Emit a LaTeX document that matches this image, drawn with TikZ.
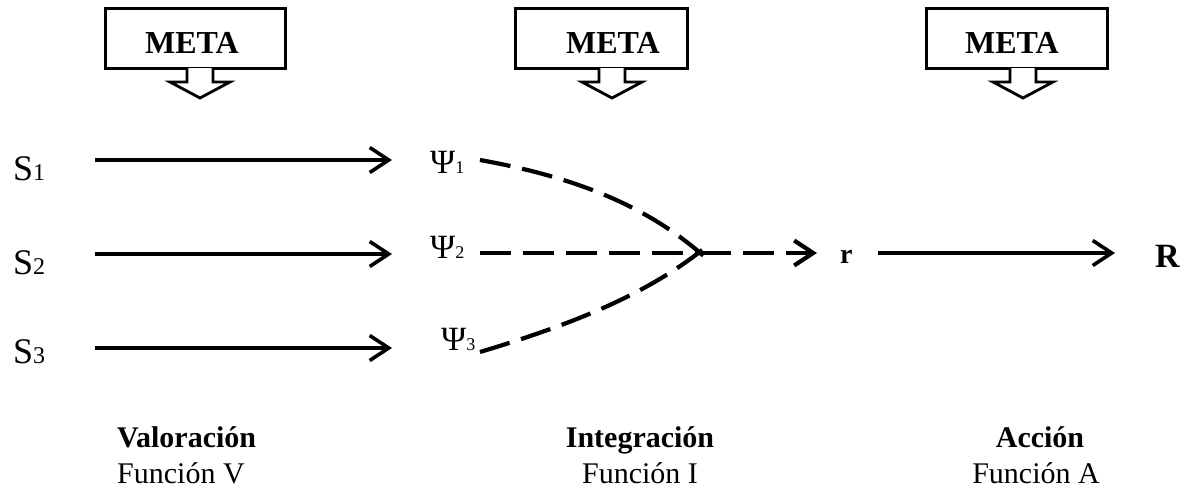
\documentclass[tikz,border=0pt]{standalone}
\usepackage{fontspec}
\setmainfont{Liberation Serif}
\usetikzlibrary{arrows.meta}
\begin{document}
\begin{tikzpicture}[x=1pt,y=-1pt,
  lbl/.style={inner sep=0pt, anchor=base west},
  tip/.style={-{Straight Barb[length=19pt,width=25pt]}},
  conn/.style={line width=3.6pt, tip},
  dsh/.style={line width=4.2pt, dash pattern=on 31pt off 12pt},
  metabox/.style={draw, line width=3pt, inner sep=0pt, minimum height=60pt},
  metatext/.style={inner sep=0pt, anchor=base, font=\fontsize{32}{36}\selectfont\bfseries},
  goal/.style={draw, line width=2.8pt, fill=white, line join=miter},
  title/.style={inner sep=0pt, anchor=base, font=\fontsize{30}{36}\selectfont\bfseries},
  sub/.style={inner sep=0pt, anchor=base, font=\fontsize{30}{36}\selectfont}
]
\useasboundingbox (0,0) rectangle (1187,493);

% goal boxes with hollow down arrows
\node[metabox, minimum width=180pt] (m1) at (195,38) {};
\node[metabox, minimum width=172pt] (m2) at (601,38) {};
\node[metabox, minimum width=181pt] (m3) at (1017,38) {};
\node[metatext] (t1) at (192,53) {META};
\node[metatext] (t2) at (613,53) {META};
\node[metatext] (t3) at (1012,53) {META};
\foreach \g/\x in {g1/200,g2/612,g3/1023}{
  \coordinate (\g) at (\x,68);
  \draw[goal] ([xshift=-13pt]\g) -- ++(0,14) -- ++(-17,0) -- ++(30,16)
    -- ++(30,-16) -- ++(-17,0) -- ++(0,-14);
}

% stimuli
\node[lbl, font=\fontsize{36}{40}\selectfont] (s1) at (13,180) {S\fontsize{24}{28}\selectfont 1};
\node[lbl, font=\fontsize{36}{40}\selectfont] (s2) at (13,274) {S\fontsize{24}{28}\selectfont 2};
\node[lbl, font=\fontsize{36}{40}\selectfont] (s3) at (13,363) {S\fontsize{24}{28}\selectfont 3};

% appraisals
\node[lbl, font=\fontsize{34}{38}\selectfont] (p1) at (430,173) {Ψ\fontsize{18}{20}\selectfont 1};
\node[lbl, font=\fontsize{34}{38}\selectfont] (p2) at (430,258) {Ψ\fontsize{18}{20}\selectfont 2};
\node[lbl, font=\fontsize{34}{38}\selectfont] (p3) at (441,350) {Ψ\fontsize{18}{20}\selectfont 3};

% stimulus arrows
\coordinate (a1) at (95,160);
\coordinate (a2) at (95,254);
\coordinate (a3) at (95,348);
\draw[conn, shorten >=38pt] (a1) -- (a1 -| p1.west);
\draw[conn, shorten >=38pt] (a2) -- (a2 -| p2.west);
\draw[conn, shorten >=49pt] (a3) -- (a3 -| p3.west);

% integration
\coordinate (d1) at (480,160);
\coordinate (d2) at (480,253);
\coordinate (d3) at (480,352);
\coordinate (m) at (700,253);
\draw[dsh] (d1) .. controls (580,178) and (650,208) .. (706,258);
\draw[dsh] (d3) .. controls (580,322) and (650,292) .. (706,247);
\draw[dsh] (d2) -- (m);

% response
\node[lbl, font=\fontsize{28}{30}\selectfont\bfseries] (r) at (840,263) {r};
\node[lbl, font=\fontsize{34}{38}\selectfont\bfseries] (R) at (1155,267) {R};
\draw[dsh, tip, shorten >=23pt] (m) -- (r.west |- m);
\draw[conn, shorten <=25pt, shorten >=40pt] (r.east |- m) -- (R.west |- m);

% function labels
\node[lbl, font=\fontsize{30}{36}\selectfont\bfseries] (v1) at (117,447) {Valoración};
\node[lbl, font=\fontsize{30}{36}\selectfont] (v2) at (117,483) {Función V};
\node[title] (i1) at (640,447) {Integración};
\node[sub] (i2) at (640,483) {Función I};
\node[title] (c1) at (1040,447) {Acción};
\node[sub] (c2) at (1036,483) {Función A};
\end{tikzpicture}
\end{document}
